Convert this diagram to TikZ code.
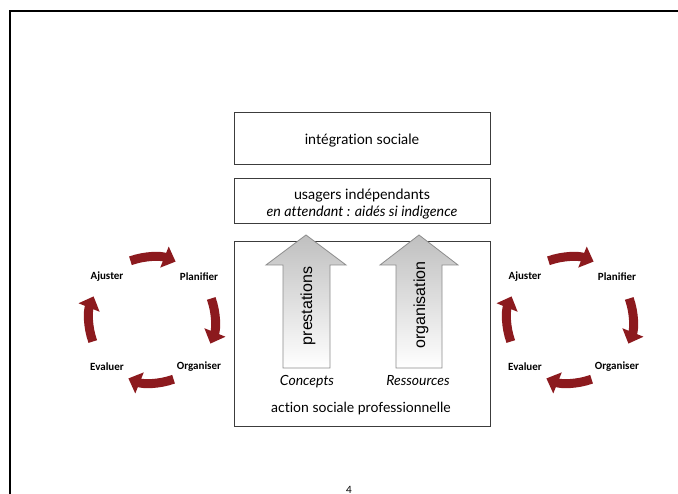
\documentclass[tikz,border=0pt]{standalone}
\usepackage{fontspec}
\setmainfont{Lato}[Ligatures=NoCommon]
\newfontfamily\arialf{Liberation Sans}
\newfontfamily\calf{Carlito}
\usetikzlibrary{arrows.meta}
\definecolor{cyc}{RGB}{140,26,30}
\definecolor{boxline}{RGB}{60,60,60}
\tikzset{
  boxnode/.style={draw=boxline, line width=1pt, minimum width=256pt, inner sep=0pt},
  boxtext/.style={align=center, inner sep=0pt, font=\fontsize{14.3}{17.5}\selectfont},
  cyclab/.style={font=\calf\bfseries\fontsize{11}{13}\selectfont},
  cycarrow/.style={draw=cyc, line width=9pt, -{Triangle[width=22pt,length=12pt]}},
  bigarrow/.style={top color=black!25, bottom color=white, draw=black!45, line width=0.8pt},
  arrlab/.style={font=\arialf\fontsize{16}{18}\selectfont, rotate=90},
  itlab/.style={font=\itshape\fontsize{14}{16}\selectfont}
}
\begin{document}
\begin{tikzpicture}[x=1pt,y=-1pt]
\useasboundingbox (0,0) rectangle (678,494);
\clip (0,0) rectangle (678,494);
% page frame
\draw[line width=2.5pt] (10,11) rectangle (700,520);
% boxes
\node[boxnode, minimum height=52pt] (integ) at (362,138.5) {};
\node[boxtext] (integt) at (362,141) {intégration sociale};
\node[boxnode, minimum height=45pt] (usag) at (362,201.5) {};
\node[boxtext] (usagt) at (362,204) {usagers indépendants\\\itshape en attendant : aidés si indigence};
\node[boxnode, minimum height=185pt] (action) at (362,334.5) {};
% big arrows
\shade[bigarrow] (283,368) -- (283,265) -- (266,265) -- (306,235) -- (346,265) -- (330,265) -- (330,368) -- cycle;
\shade[bigarrow] (396,368) -- (396,265) -- (380,265) -- (419,235) -- (458,265) -- (442,265) -- (442,368) -- cycle;
\node[arrlab] (prest) at (308,306) {prestations};
\node[arrlab] (orga) at (421,305) {organisation};
\node[itlab] (conc) at (307,382) {Concepts};
\node[itlab] (ress) at (418,381) {Ressources};
\node[font=\fontsize{14}{16}\selectfont] (asp) at (361,409) {action sociale professionnelle};
% left cycle
\begin{scope}[shift={(152,320)}]
\coordinate (lc) at (0,0);
\node[cyclab] (lA) at (-45,-43) {Ajuster};
\node[cyclab] (lP) at (47,-43) {Planifier};
\node[cyclab] (lO) at (47,47) {Organiser};
\node[cyclab] (lE) at (-45,47) {Evaluer};
\draw[cycarrow] (-110:63) arc (-110:-68:63);
\draw[cycarrow] (-20:63) arc (-20:22:63);
\draw[cycarrow] (70:63) arc (70:112:63);
\draw[cycarrow] (160:63) arc (160:202:63);
\end{scope}
% right cycle
\begin{scope}[shift={(570,320)}]
\coordinate (rc) at (0,0);
\node[cyclab] (rA) at (-45,-43) {Ajuster};
\node[cyclab] (rP) at (47,-43) {Planifier};
\node[cyclab] (rO) at (47,47) {Organiser};
\node[cyclab] (rE) at (-45,47) {Evaluer};
\draw[cycarrow] (-110:63) arc (-110:-68:63);
\draw[cycarrow] (-20:63) arc (-20:22:63);
\draw[cycarrow] (70:63) arc (70:112:63);
\draw[cycarrow] (160:63) arc (160:202:63);
\end{scope}
% page number
\node[font=\fontsize{10}{11}\selectfont, anchor=north, inner sep=0pt] (pnum) at (349,486) {4};
\end{tikzpicture}
\end{document}
